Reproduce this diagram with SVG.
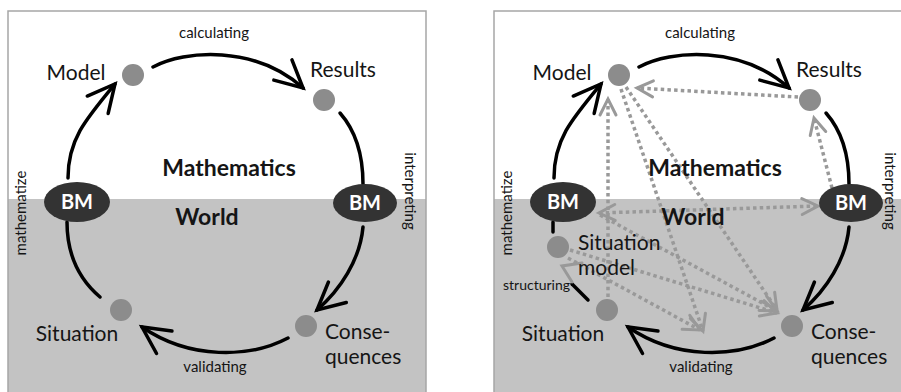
<svg xmlns="http://www.w3.org/2000/svg" width="901" height="392" viewBox="0 0 901 392">
<style>
.frame{fill:none;stroke:#a6a6a6;stroke-width:1.5}
.world{fill:#c3c3c3}
.dot{fill:#8c8c8c}
.bmshape{fill:#333}
.bmtext{fill:#fff;font-family:Lato,"Open Sans",sans-serif;font-weight:bold;font-size:20px;text-anchor:middle}
.lbl{font-family:Lato,"Open Sans",sans-serif;font-size:21px;fill:#151515}
.proc{font-family:Lato,"Open Sans",sans-serif;font-size:15px;fill:#151515}
.side{font-family:Lato,"Open Sans",sans-serif;font-size:15px;fill:#151515;text-anchor:middle}
.region{font-family:Lato,"Open Sans",sans-serif;font-size:23px;font-weight:bold;fill:#151515;text-anchor:middle}
.mid{text-anchor:middle}
.arc{fill:none;stroke:#000;stroke-width:3.5;stroke-linecap:round}
.dotted{fill:none;stroke:#999;stroke-width:3.5;stroke-dasharray:3.5 3.2}
.gchev{fill:none;stroke:#999;stroke-width:3;stroke-linecap:round}
</style>
<defs>
<marker id="ah" markerUnits="userSpaceOnUse" viewBox="-32 -16 36 32" refX="0" refY="0" markerWidth="36" markerHeight="32" orient="auto" overflow="visible">
<path d="M-27,-13.6 L0,0 L-27,13.6" fill="none" stroke="#000" stroke-width="3.5" stroke-linecap="round"/>
</marker>
<marker id="gh" markerUnits="userSpaceOnUse" viewBox="-20 -12 24 24" refX="0" refY="0" markerWidth="24" markerHeight="24" orient="auto-start-reverse" overflow="visible">
<path d="M-16,-8 L0,0 L-16,8" fill="none" stroke="#999" stroke-width="3" stroke-linecap="round"/>
</marker>
</defs>
<rect width="901" height="392" fill="#fff"/>
<g id="panel-left-background">
<rect x="8" y="199" width="418" height="200" class="world"/>
<rect x="8" y="11" width="418" height="400" class="frame"/>
</g>
<g id="panel-right-background">
<rect x="494" y="199" width="420" height="200" class="world"/>
<rect x="494" y="11" width="420" height="400" class="frame"/>
</g>
<g id="connectors">
<path class="arc" d="M153,67 C185,50 255,45 303,88" marker-end="url(#ah)"/>
<path class="arc" d="M68,178 C68,140 85,120 115,84" marker-end="url(#ah)"/>
<path class="arc" d="M340,113 C355,130 363,155 363,184"/>
<path class="arc" d="M67,222 C67,255 80,280 100,297"/>
<path class="arc" d="M288,338 C250,358 190,360 142,327" marker-end="url(#ah)"/>
<path class="arc" d="M363,227 C360,260 340,290 317,310" marker-end="url(#ah)"/>
<path class="dotted" d="M798,97 L637,88" marker-end="url(#gh)"/>
<path class="dotted" d="M608,297 L608,99" marker-end="url(#gh)"/>
<path class="dotted" d="M832,188 L814,118" marker-end="url(#gh)"/>
<path class="dotted" d="M599,213 L818,206" marker-start="url(#gh)" marker-end="url(#gh)"/>
<path class="dotted" d="M600,215 L777,311" marker-end="url(#gh)"/>
<path class="dotted" d="M626,87 L777,310" marker-end="url(#gh)"/>
<path class="dotted" d="M621,89 L703,331" marker-end="url(#gh)"/>
<path class="dotted" d="M570,250 L777,313" marker-end="url(#gh)"/>
<path class="dotted" d="M568,258 L700,330" marker-end="url(#gh)"/>
<path class="arc" d="M639,67 C671,50 741,45 789,88" marker-end="url(#ah)"/>
<path class="arc" d="M554,178 C554,140 571,120 601,84" marker-end="url(#ah)"/>
<path class="arc" d="M826,113 C841,130 849,155 849,184"/>
<path class="arc" d="M553,222 L553,232"/>
<path class="arc" d="M774,338 C736,358 676,360 628,327" marker-end="url(#ah)"/>
<path class="arc" d="M849,227 C846,260 826,290 803,310" marker-end="url(#ah)"/>
<path class="arc" d="M588,300 L572,284"/>
<path class="gchev" d="M582,263 L562,266 L572,282"/>
</g>
<g id="labels-left">
<text class="proc mid" x="214" y="38">calculating</text>
<text class="proc mid" x="215" y="372">validating</text>
<text class="side" transform="translate(26,213) rotate(-90)">mathematize</text>
<text class="side" transform="translate(405,191) rotate(90)">interpreting</text>
<text class="region" x="229" y="176">Mathematics</text>
<text class="region" x="207" y="225">World</text>
</g>
<g id="model-left"><circle class="dot" cx="133" cy="75" r="11"/><text class="lbl mid" x="76" y="80">Model</text></g>
<g id="results-left"><circle class="dot" cx="324" cy="100" r="11"/><text class="lbl mid" x="343" y="77">Results</text></g>
<g id="situation-left"><circle class="dot" cx="121" cy="310" r="11"/><text class="lbl mid" x="77" y="341">Situation</text></g>
<g id="consequences-left"><circle class="dot" cx="306" cy="326" r="11"/><text class="lbl" x="325" y="339">Conse-</text><text class="lbl" x="325" y="364">quences</text></g>
<g id="bm-left-left"><ellipse class="bmshape" cx="77" cy="202" rx="33" ry="20"/><text class="bmtext" x="77" y="209">BM</text></g>
<g id="bm-right-left"><ellipse class="bmshape" cx="365" cy="203" rx="32" ry="19"/><text class="bmtext" x="365" y="210">BM</text></g>
<g id="labels-right">
<text class="proc mid" x="700" y="38">calculating</text>
<text class="proc mid" x="701" y="372">validating</text>
<text class="side" transform="translate(512,213) rotate(-90)">mathematize</text>
<text class="side" transform="translate(885,191) rotate(90)">interpreting</text>
<text class="region" x="715" y="176">Mathematics</text>
<text class="region" x="693" y="225">World</text>
<text class="proc" x="503" y="290" style="font-size:14px">structuring</text>
</g>
<g id="model-right"><circle class="dot" cx="619" cy="75" r="11"/><text class="lbl mid" x="562" y="80">Model</text></g>
<g id="results-right"><circle class="dot" cx="810" cy="100" r="11"/><text class="lbl mid" x="829" y="77">Results</text></g>
<g id="situation-model-right"><circle class="dot" cx="558" cy="247" r="11"/><text class="lbl" x="578" y="250">Situation</text><text class="lbl" x="578" y="275">model</text></g>
<g id="situation-right"><circle class="dot" cx="607" cy="310" r="11"/><text class="lbl mid" x="563" y="341">Situation</text></g>
<g id="consequences-right"><circle class="dot" cx="792" cy="326" r="11"/><text class="lbl" x="811" y="339">Conse-</text><text class="lbl" x="811" y="364">quences</text></g>
<g id="bm-left-right"><ellipse class="bmshape" cx="563" cy="202" rx="33" ry="20"/><text class="bmtext" x="563" y="209">BM</text></g>
<g id="bm-right-right"><ellipse class="bmshape" cx="851" cy="203" rx="32" ry="19"/><text class="bmtext" x="851" y="210">BM</text></g>
</svg>
